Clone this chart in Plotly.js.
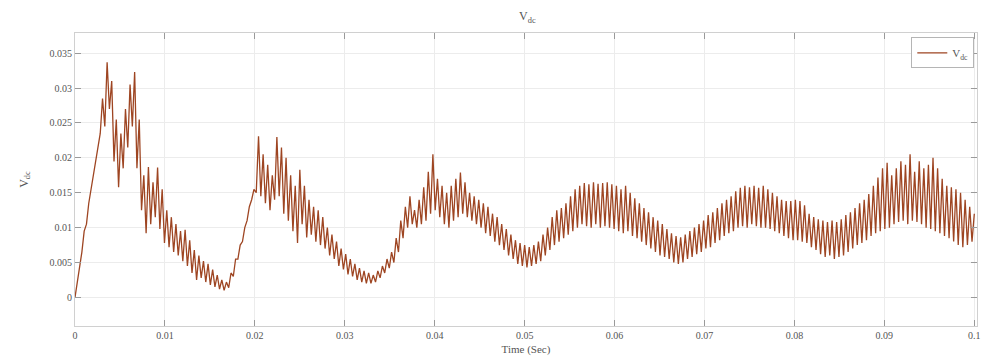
<!DOCTYPE html>
<html>
<head>
<meta charset="utf-8">
<script src="https://cdn.plot.ly/plotly-3.0.1.min.js"></script>
<style>html,body{margin:0;padding:0;background:#fff;}#chart{width:982px;height:359px;}</style>
</head>
<body>
<div id="chart"></div>
<script>
// Time span of the record (s)
const tStart = 0;
const tEnd = 0.1;

// DC-link voltage samples (evenly spaced from tStart to tEnd)
const vdc = [
  0, 0.002, 0.0045, 0.0065, 0.0095, 0.0105, 0.0135, 0.0155, 0.0175, 0.020,
  0.0215, 0.0235, 0.0285, 0.0245, 0.0337, 0.027, 0.031, 0.0195, 0.0255, 0.0158,
  0.0235, 0.0185, 0.027, 0.0215, 0.0305, 0.0245, 0.0323, 0.0185, 0.0255, 0.0125,
  0.0175, 0.0092, 0.0187, 0.0105, 0.0165, 0.0115, 0.0186, 0.0098, 0.0155, 0.0078,
  0.0125, 0.0072, 0.0115, 0.0065, 0.0105, 0.0060, 0.0095, 0.0052, 0.0097, 0.0045,
  0.0082, 0.0035, 0.0068, 0.0025, 0.0060, 0.0028, 0.0052, 0.0022, 0.0048, 0.0018,
  0.0040, 0.0015, 0.0032, 0.0012, 0.0025, 0.0010, 0.0022, 0.0014, 0.0035, 0.0030,
  0.0055, 0.0055, 0.0075, 0.0080, 0.0100, 0.0110, 0.0130, 0.0140, 0.0155, 0.0150,
  0.0231, 0.0145, 0.0205, 0.0135, 0.0190, 0.0125, 0.0175, 0.0140, 0.0230, 0.0145,
  0.0215, 0.0120, 0.0200, 0.0110, 0.0175, 0.0095, 0.0160, 0.0078, 0.0183, 0.0105,
  0.0160, 0.0086, 0.0140, 0.0090, 0.0130, 0.0080, 0.0125, 0.0075, 0.0115, 0.0070,
  0.0100, 0.0060, 0.0090, 0.0055, 0.0080, 0.0045, 0.0070, 0.0040, 0.0062, 0.0033,
  0.0055, 0.0030, 0.0048, 0.0025, 0.0042, 0.0022, 0.0038, 0.0020, 0.0035, 0.0020,
  0.0032, 0.0022, 0.0038, 0.0028, 0.0045, 0.0035, 0.0055, 0.0042, 0.0065, 0.0050,
  0.0085, 0.0065, 0.0110, 0.0085, 0.0130, 0.0100, 0.0145, 0.0105, 0.0125, 0.0100,
  0.0140, 0.0105, 0.0158, 0.0110, 0.0180, 0.0120, 0.0205, 0.0125, 0.0170, 0.0115,
  0.0160, 0.0105, 0.0150, 0.0100, 0.0160, 0.0110, 0.0170, 0.0115, 0.0179, 0.0120,
  0.0165, 0.0115, 0.0150, 0.0110, 0.0145, 0.0105, 0.0140, 0.0100, 0.0135, 0.0092,
  0.0130, 0.0088, 0.0120, 0.0080, 0.0115, 0.0075, 0.0105, 0.0068, 0.0098, 0.0060,
  0.0090, 0.0055, 0.0082, 0.0048, 0.0078, 0.0045, 0.0075, 0.0043, 0.0072, 0.0045,
  0.0075, 0.0048, 0.0080, 0.0052, 0.0090, 0.0060, 0.0100, 0.0068, 0.0115, 0.0075,
  0.0125, 0.0080, 0.0128, 0.0085, 0.0135, 0.0090, 0.0145, 0.0095, 0.0155, 0.0100,
  0.0160, 0.0105, 0.0164, 0.0102, 0.0162, 0.0100, 0.0165, 0.0105, 0.0163, 0.0100,
  0.0164, 0.0102, 0.0165, 0.0100, 0.0162, 0.0098, 0.0160, 0.0095, 0.0155, 0.0092,
  0.0160, 0.0095, 0.0150, 0.0088, 0.0142, 0.0085, 0.0135, 0.0080, 0.0128, 0.0075,
  0.0122, 0.0070, 0.0115, 0.0065, 0.0110, 0.0060, 0.0105, 0.0058, 0.0098, 0.0055,
  0.0092, 0.0050, 0.0088, 0.0048, 0.0086, 0.0050, 0.0090, 0.0055, 0.0095, 0.0058,
  0.0100, 0.0062, 0.0105, 0.0065, 0.0110, 0.0070, 0.0118, 0.0072, 0.0122, 0.0078,
  0.0128, 0.0082, 0.0135, 0.0088, 0.0140, 0.0092, 0.0145, 0.0095, 0.0152, 0.0100,
  0.0157, 0.0102, 0.0160, 0.0100, 0.0158, 0.0105, 0.0160, 0.0102, 0.0157, 0.0100,
  0.0160, 0.0100, 0.0155, 0.0098, 0.0150, 0.0095, 0.0145, 0.0092, 0.0140, 0.0088,
  0.0138, 0.0085, 0.0138, 0.0082, 0.0140, 0.0082, 0.0138, 0.0080, 0.0132, 0.0078,
  0.0120, 0.0072, 0.0115, 0.0068, 0.0112, 0.0062, 0.0110, 0.0058, 0.0108, 0.0060,
  0.0110, 0.0055, 0.0108, 0.0058, 0.0112, 0.0060, 0.0118, 0.0065, 0.0122, 0.0070,
  0.0128, 0.0075, 0.0135, 0.0078, 0.0140, 0.0082, 0.0148, 0.0088, 0.0160, 0.0092,
  0.0172, 0.0095, 0.0185, 0.0098, 0.0193, 0.0100, 0.0175, 0.0105, 0.0185, 0.0108,
  0.0195, 0.0110, 0.0190, 0.0105, 0.0205, 0.0110, 0.0180, 0.0108, 0.0195, 0.0105,
  0.0185, 0.0100, 0.0190, 0.0098, 0.0200, 0.0095, 0.0185, 0.0092, 0.0170, 0.0088,
  0.0160, 0.0085, 0.0158, 0.0080, 0.0155, 0.0075, 0.0150, 0.0072, 0.0140, 0.0075,
  0.0130, 0.0080, 0.0120
];

// Axis ticks
const xTickVals = [0, 0.01, 0.02, 0.03, 0.04, 0.05, 0.06, 0.07, 0.08, 0.09, 0.1];
const xTickText = ["0", "0.01", "0.02", "0.03", "0.04", "0.05", "0.06", "0.07", "0.08", "0.09", "0.1"];
const yTickVals = [0, 0.005, 0.01, 0.015, 0.02, 0.025, 0.03, 0.035];
const yTickText = ["0", "0.005", "0.01", "0.015", "0.02", "0.025", "0.03", "0.035"];

const serif = "Liberation Serif, Times New Roman, serif";

const trace = {
  type: "scatter",
  mode: "lines",
  name: "V<sub>dc</sub>",
  y: vdc,
  x0: tStart,
  dx: (tEnd - tStart) / (vdc.length - 1),
  line: { color: "#9e4522", width: 1.3 }
};

const axisCommon = {
  showgrid: true,
  gridcolor: "#ececec",
  gridwidth: 1,
  zeroline: false,
  showline: true,
  linecolor: "#d0d0d0",
  linewidth: 1,
  mirror: "ticks",
  ticks: "inside",
  ticklen: 6,
  tickcolor: "#9a9a9a",
  tickfont: { family: serif, size: 10, color: "#555" }
};

const layout = {
  width: 982,
  height: 359,
  margin: { l: 75, r: 5, t: 33, b: 33 },
  paper_bgcolor: "#fff",
  plot_bgcolor: "#fff",
  showlegend: true,
  title: {
    text: "V<sub>dc</sub>",
    font: { family: serif, size: 12, color: "#555" },
    x: 0.537, xanchor: "center",
    y: 0.955, yanchor: "middle"
  },
  xaxis: Object.assign({}, axisCommon, {
    range: [0, 0.1003],
    tickvals: xTickVals,
    ticktext: xTickText,
    title: { text: "Time (Sec)", font: { family: serif, size: 11, color: "#555" }, standoff: 5 }
  }),
  yaxis: Object.assign({}, axisCommon, {
    range: [-0.0041, 0.0379],
    tickvals: yTickVals,
    ticktext: yTickText,
    title: { text: "V<sub>dc</sub>", font: { family: serif, size: 12, color: "#555" }, standoff: 18 }
  }),
  legend: {
    x: 0.997, xanchor: "right",
    y: 0.985, yanchor: "top",
    bgcolor: "#fff",
    bordercolor: "#b5b5b5",
    borderwidth: 1,
    font: { family: serif, size: 11, color: "#555" },
    itemwidth: 30
  }
};

Plotly.newPlot("chart", [trace], layout, { staticPlot: true, displayModeBar: false });
</script>
</body>
</html>
